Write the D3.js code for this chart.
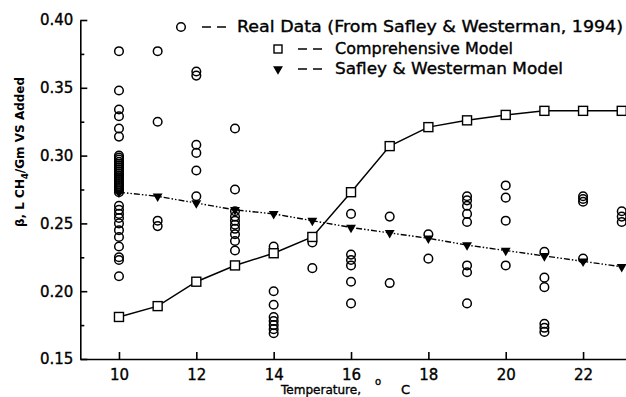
<!DOCTYPE html>
<html>
<head>
<meta charset="utf-8">
<script src="https://cdn.jsdelivr.net/npm/d3@7"></script>
<style>
  body { margin: 0; background: #fff; }
  svg text { font-family: "DejaVu Sans", sans-serif; fill: #000; stroke: #000; stroke-width: 0.35px; }
</style>
</head>
<body>
<svg id="chart" width="626" height="397"></svg>
<script>
// model curves, one value per temperature
const temps = [10, 11, 12, 13, 14, 15, 16, 17, 18, 19, 20, 21, 22, 23];
const comprehensiveModel = [0.181, 0.189, 0.207, 0.219, 0.228, 0.240, 0.273, 0.307, 0.321, 0.326, 0.330, 0.333, 0.333, 0.333];
const safleyModel = [0.273, 0.270, 0.265, 0.260, 0.257, 0.252, 0.247, 0.243, 0.239, 0.234, 0.230, 0.226, 0.222, 0.218];

// measured points (Safley & Westerman, 1994), grouped by temperature
const realData = [
  [10, [0.377, 0.348, 0.334, 0.329, 0.320, 0.314,
        0.300, 0.2985, 0.297, 0.2955, 0.294, 0.2925, 0.291, 0.2895, 0.288, 0.2865, 0.285, 0.2835,
        0.282, 0.2805, 0.279, 0.2775, 0.276, 0.2745, 0.273,
        0.263, 0.260, 0.257, 0.254, 0.250, 0.245, 0.240, 0.233, 0.225, 0.223, 0.211]],
  [11, [0.377, 0.325, 0.252, 0.248]],
  [12, [0.362, 0.359, 0.308, 0.302, 0.289, 0.270]],
  [13, [0.320, 0.275, 0.259, 0.255, 0.252, 0.249, 0.246, 0.242, 0.237, 0.230]],
  [14, [0.233, 0.200, 0.190, 0.181, 0.178, 0.175, 0.172, 0.169]],
  [15, [0.236, 0.217]],
  [16, [0.257, 0.227, 0.223, 0.219, 0.207, 0.191]],
  [17, [0.255, 0.206]],
  [18, [0.242, 0.224]],
  [19, [0.270, 0.267, 0.263, 0.257, 0.251, 0.219, 0.214, 0.191]],
  [20, [0.278, 0.269, 0.252, 0.219]],
  [21, [0.229, 0.210, 0.203, 0.176, 0.173, 0.170]],
  [22, [0.270, 0.268, 0.266, 0.224]],
  [23, [0.259, 0.255, 0.251]]
];

const xTicks = [10, 12, 14, 16, 18, 20, 22];
const yTicks = [0.15, 0.20, 0.25, 0.30, 0.35, 0.40];
const yMinorTicks = [0.175, 0.225, 0.275, 0.325, 0.375];

const legendLabels = [
  "Real Data (From Safley & Westerman, 1994)",
  "Comprehensive Model",
  "Safley & Westerman Model"
];

const svg = d3.select("#chart");

const x = d3.scaleLinear().domain([9, 23.11]).range([80.3, 626]);
const y = d3.scaleLinear().domain([0.15, 0.40]).range([359, 20]);

// axes
const xAxis = svg.append("g")
  .attr("transform", "translate(0," + y(0.15) + ")")
  .call(d3.axisBottom(x).tickValues(xTicks).tickSize(-7).tickSizeOuter(0).tickPadding(10).tickFormat(d3.format("d")));

const yAxis = svg.append("g")
  .attr("transform", "translate(" + x(9) + ",0)")
  .call(d3.axisLeft(y).tickValues(yTicks).tickSize(-7).tickSizeOuter(0).tickPadding(7).tickFormat(d3.format(".2f")));

svg.append("g")
  .attr("transform", "translate(" + x(9) + ",0)")
  .call(d3.axisLeft(y).tickValues(yMinorTicks).tickSize(-4).tickFormat(""))
  .select(".domain").remove();

svg.selectAll(".domain, .tick line")
  .attr("stroke", "#000")
  .attr("stroke-width", 1.6);

xAxis.selectAll("text").style("font-size", "15px");
yAxis.selectAll("text").style("font-size", "15px");

// axis titles
const xTitle = svg.append("text")
  .attr("x", 281)
  .attr("y", 394)
  .style("font-size", "12px");
xTitle.append("tspan").attr("textLength", 80).attr("lengthAdjust", "spacingAndGlyphs").text("Temperature,");
xTitle.append("tspan").attr("x", 375).attr("dy", -9).style("font-size", "10px").text("o");
xTitle.append("tspan").attr("x", 401).attr("dy", 9).style("font-size", "13px").text("C");

const yTitle = svg.append("text")
  .attr("transform", "translate(24,152) rotate(-90)")
  .attr("text-anchor", "middle")
  .style("font-size", "12px")
  .style("font-weight", "bold")
  .style("stroke-width", "0px");
yTitle.append("tspan").text("\u03b2, L CH");
yTitle.append("tspan").attr("dy", 4).style("font-size", "8.5px").text("4");
yTitle.append("tspan").attr("dy", -4).text("/Gm VS Added");

// model lines
const line = d3.line()
  .x((d, i) => x(temps[i]))
  .y(d => y(d));

svg.append("path")
  .datum(comprehensiveModel)
  .attr("d", line)
  .attr("fill", "none")
  .attr("stroke", "#000")
  .attr("stroke-width", 1.5);

svg.append("path")
  .datum(safleyModel)
  .attr("d", line)
  .attr("fill", "none")
  .attr("stroke", "#000")
  .attr("stroke-width", 1.4)
  .attr("stroke-dasharray", "6,2,1.5,2,1.5,2");

// real data circles
const points = realData.flatMap(([t, vals]) => vals.map(v => ({ t: t, v: v })));

svg.selectAll("circle.real")
  .data(points)
  .enter()
  .append("circle")
  .attr("class", "real")
  .attr("cx", d => x(d.t))
  .attr("cy", d => y(d.v))
  .attr("r", 4.3)
  .attr("fill", "none")
  .attr("stroke", "#000")
  .attr("stroke-width", 1.5);

// comprehensive model squares
svg.selectAll("rect.comp")
  .data(comprehensiveModel)
  .enter()
  .append("rect")
  .attr("class", "comp")
  .attr("x", (d, i) => x(temps[i]) - 4.5)
  .attr("y", d => y(d) - 4.5)
  .attr("width", 9)
  .attr("height", 9)
  .attr("fill", "#fff")
  .attr("stroke", "#000")
  .attr("stroke-width", 1.4);

// safley model triangles
const tri = d3.symbol().type(d3.symbolTriangle).size(42);
svg.selectAll("path.sw")
  .data(safleyModel)
  .enter()
  .append("path")
  .attr("class", "sw")
  .attr("d", tri)
  .attr("transform", (d, i) => "translate(" + x(temps[i]) + "," + y(d) + ") rotate(180)")
  .attr("fill", "#000");

// legend
const legendRows = [
  { mx: 181, my: 27, dash: 202, tx: 237, w: 386 },
  { mx: 278, my: 49, dash: 298, tx: 335, w: 178 },
  { mx: 278, my: 69, dash: 298, tx: 335, w: 228 }
];

const legend = svg.append("g");
legendRows.forEach((r, i) => {
  if (i === 0) {
    legend.append("circle").attr("cx", r.mx).attr("cy", r.my).attr("r", 4.3)
      .attr("fill", "none").attr("stroke", "#000").attr("stroke-width", 1.5);
  } else if (i === 1) {
    legend.append("rect").attr("x", r.mx - 4).attr("y", r.my - 4).attr("width", 8).attr("height", 8)
      .attr("fill", "#fff").attr("stroke", "#000").attr("stroke-width", 1.4);
  } else {
    legend.append("path").attr("d", tri)
      .attr("transform", "translate(" + r.mx + "," + r.my + ") rotate(180)").attr("fill", "#000");
  }
  [0, 15].forEach(off => {
    legend.append("line")
      .attr("x1", r.dash + off).attr("x2", r.dash + off + 9)
      .attr("y1", r.my).attr("y2", r.my)
      .attr("stroke", "#000").attr("stroke-width", 1.5);
  });
  legend.append("text")
    .attr("x", r.tx)
    .attr("y", r.my + 5)
    .attr("textLength", r.w)
    .attr("lengthAdjust", "spacingAndGlyphs")
    .style("font-size", "15px")
    .text(legendLabels[i]);
});
</script>
</body>
</html>
